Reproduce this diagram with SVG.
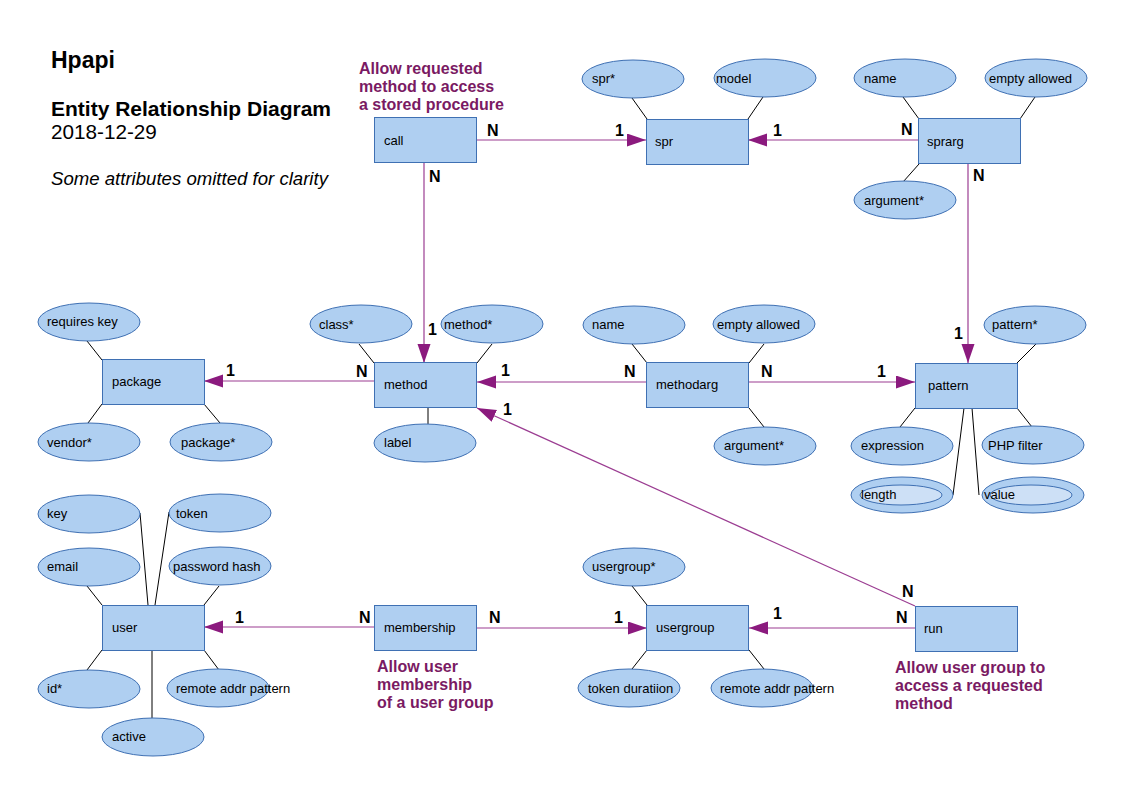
<svg xmlns="http://www.w3.org/2000/svg" width="1123" height="794" viewBox="0 0 1123 794">
<style>
text{font-family:"Liberation Sans",Arial,sans-serif;fill:#000}
.ent{fill:#afcff1;stroke:#3f70b3;stroke-width:1}
.att{fill:#afcff1;stroke:#3f70b3;stroke-width:1}
.inner{fill:#cde0f6;stroke:#3f70b3;stroke-width:1}
.lbl{font-size:13px}
.card{font-size:16px;font-weight:bold}
.note{font-size:16px;font-weight:bold;fill:#7a1a63}
.al{stroke:#000;stroke-width:1;fill:none}
.rel{stroke:#9b3d92;stroke-width:1.2;fill:none}
.arr{marker-end:url(#ah)}
</style>
<defs>
<marker id="ah" markerUnits="userSpaceOnUse" markerWidth="20" markerHeight="14" refX="19" refY="6.5" orient="auto">
<path d="M0,0 L19,6.5 L0,13 z" fill="#8b1a7e"/>
</marker>
</defs>
<rect width="1123" height="794" fill="#fff"/>

<g id="title">
<text x="51" y="68" style="font-size:23px;font-weight:bold">Hpapi</text>
<text x="51" y="116" style="font-size:21px;font-weight:bold">Entity Relationship Diagram</text>
<text x="51" y="139" style="font-size:20.7px">2018-12-29</text>
<text x="51" y="185" style="font-size:18.6px;font-style:italic">Some attributes omitted for clarity</text>
</g>

<g id="notes">
<text class="note"><tspan x="359" y="74">Allow requested</tspan><tspan x="359" y="92">method to access</tspan><tspan x="359" y="110">a stored procedure</tspan></text>
<text class="note"><tspan x="377" y="672">Allow user</tspan><tspan x="377" y="690">membership</tspan><tspan x="377" y="708">of a user group</tspan></text>
<text class="note"><tspan x="895" y="673">Allow user group to</tspan><tspan x="895" y="691">access a requested</tspan><tspan x="895" y="709">method</tspan></text>
</g>

<g id="connectors">
<line class="rel arr" x1="477" y1="140" x2="646" y2="140"/>
<line class="rel arr" x1="918" y1="140" x2="748" y2="140"/>
<line class="rel arr" x1="968" y1="164" x2="968" y2="363"/>
<line class="rel arr" x1="424" y1="163" x2="424" y2="363"/>
<line class="rel arr" x1="374" y1="381" x2="204" y2="381"/>
<line class="rel arr" x1="647" y1="382" x2="477" y2="382"/>
<line class="rel arr" x1="749" y1="382" x2="915" y2="382"/>
<line class="rel arr" x1="915" y1="606" x2="477" y2="408"/>
<line class="rel arr" x1="374" y1="627" x2="204" y2="627"/>
<line class="rel arr" x1="477" y1="628" x2="647" y2="628"/>
<line class="rel arr" x1="915" y1="628" x2="749" y2="628"/>
<g class="card">
<text class="card" x="487" y="136">N</text>
<text class="card" x="615" y="136">1</text>
<text class="card" x="773" y="136">1</text>
<text class="card" x="901" y="135">N</text>
<text class="card" x="973" y="181">N</text>
<text class="card" x="429" y="182">N</text>
<text class="card" x="954" y="339">1</text>
<text class="card" x="428" y="335">1</text>
<text class="card" x="877" y="377">1</text>
<text class="card" x="761" y="377">N</text>
<text class="card" x="624" y="377">N</text>
<text class="card" x="501" y="376">1</text>
<text class="card" x="503" y="415">1</text>
<text class="card" x="356" y="377">N</text>
<text class="card" x="226" y="376">1</text>
<text class="card" x="235" y="623">1</text>
<text class="card" x="359" y="623">N</text>
<text class="card" x="489" y="623">N</text>
<text class="card" x="614" y="623">1</text>
<text class="card" x="773" y="619">1</text>
<text class="card" x="902" y="597">N</text>
<text class="card" x="896" y="623">N</text>
</g>
</g>

<g id="call">
<rect class="ent" x="374.5" y="117.5" width="102" height="45"/>
<text class="lbl" x="384" y="145">call</text>
</g>

<g id="spr">
<line class="al" x1="632" y1="98" x2="647" y2="119"/>
<line class="al" x1="763" y1="97" x2="748" y2="119"/>
<rect class="ent" x="646.5" y="119.5" width="102" height="45"/>
<text class="lbl" x="655" y="146">spr</text>
<ellipse class="att" cx="633" cy="79" rx="51" ry="19"/>
<text class="lbl" x="592" y="83">spr*</text>
<ellipse class="att" cx="765" cy="78" rx="51" ry="19"/>
<text class="lbl" x="716" y="83">model</text>
</g>

<g id="sprarg">
<line class="al" x1="903" y1="97" x2="919" y2="119"/>
<line class="al" x1="1035" y1="97" x2="1020" y2="119"/>
<line class="al" x1="919" y1="164" x2="903" y2="182"/>
<rect class="ent" x="918.5" y="118.5" width="102" height="45"/>
<text class="lbl" x="927" y="146">sprarg</text>
<ellipse class="att" cx="905" cy="78" rx="51" ry="19"/>
<text class="lbl" x="864" y="83">name</text>
<ellipse class="att" cx="1036" cy="78" rx="51" ry="19"/>
<text class="lbl" x="989" y="83">empty allowed</text>
<ellipse class="att" cx="905" cy="200" rx="51" ry="19"/>
<text class="lbl" x="864" y="205">argument*</text>
</g>

<g id="package">
<line class="al" x1="87" y1="341" x2="102" y2="360"/>
<line class="al" x1="102" y1="404" x2="88" y2="423"/>
<line class="al" x1="204" y1="404" x2="220" y2="423"/>
<rect class="ent" x="102.5" y="359.5" width="102" height="45"/>
<text class="lbl" x="112" y="386">package</text>
<ellipse class="att" cx="89" cy="322" rx="51" ry="19"/>
<text class="lbl" x="47" y="326">requires key</text>
<ellipse class="att" cx="89" cy="442" rx="51" ry="19"/>
<text class="lbl" x="47" y="447">vendor*</text>
<ellipse class="att" cx="221" cy="442" rx="51" ry="19"/>
<text class="lbl" x="181" y="447">package*</text>
</g>

<g id="method">
<line class="al" x1="359" y1="344" x2="374" y2="363"/>
<line class="al" x1="492" y1="344" x2="477" y2="363"/>
<line class="al" x1="428" y1="408" x2="428" y2="424"/>
<rect class="ent" x="374.5" y="362.5" width="102" height="45"/>
<text class="lbl" x="384" y="389">method</text>
<ellipse class="att" cx="361" cy="324" rx="51" ry="19"/>
<text class="lbl" x="319" y="329">class*</text>
<ellipse class="att" cx="492" cy="324" rx="51" ry="19"/>
<text class="lbl" x="444" y="329">method*</text>
<ellipse class="att" cx="425" cy="443" rx="51" ry="19"/>
<text class="lbl" x="384" y="447">label</text>
</g>

<g id="methodarg">
<line class="al" x1="632" y1="344" x2="647" y2="363"/>
<line class="al" x1="764" y1="344" x2="749" y2="363"/>
<line class="al" x1="749" y1="408" x2="764" y2="427"/>
<rect class="ent" x="646.5" y="362.5" width="102" height="45"/>
<text class="lbl" x="656" y="389">methodarg</text>
<ellipse class="att" cx="634" cy="325" rx="51" ry="19"/>
<text class="lbl" x="592" y="329">name</text>
<ellipse class="att" cx="764" cy="324" rx="51" ry="19"/>
<text class="lbl" x="717" y="329">empty allowed</text>
<ellipse class="att" cx="765" cy="446" rx="51" ry="19"/>
<text class="lbl" x="724" y="450">argument*</text>
</g>

<g id="pattern">
<line class="al" x1="1036" y1="344" x2="1017" y2="363"/>
<line class="al" x1="915" y1="408" x2="900" y2="427"/>
<line class="al" x1="1017" y1="408" x2="1032" y2="427"/>
<line class="al" x1="964" y1="408" x2="953" y2="495"/>
<line class="al" x1="972" y1="408" x2="979" y2="495"/>
<rect class="ent" x="915.5" y="363.5" width="102" height="45"/>
<text class="lbl" x="928" y="390">pattern</text>
<ellipse class="att" cx="1035" cy="325" rx="51" ry="19"/>
<text class="lbl" x="992" y="329">pattern*</text>
<ellipse class="att" cx="902" cy="446" rx="51" ry="19"/>
<text class="lbl" x="861" y="450">expression</text>
<ellipse class="att" cx="1033" cy="445" rx="51" ry="19"/>
<text class="lbl" x="988" y="450">PHP filter</text>
<ellipse class="att" cx="902" cy="495" rx="51" ry="18"/>
<ellipse class="inner" cx="901" cy="495" rx="41" ry="10"/>
<text class="lbl" x="861" y="499">length</text>
<ellipse class="att" cx="1033" cy="495" rx="51" ry="18"/>
<ellipse class="inner" cx="1031" cy="495" rx="41" ry="10"/>
<text class="lbl" x="984" y="499">value</text>
</g>

<g id="user">
<line class="al" x1="140" y1="513" x2="148" y2="605"/>
<line class="al" x1="169" y1="512" x2="155" y2="605"/>
<line class="al" x1="87" y1="586" x2="102" y2="605"/>
<line class="al" x1="219" y1="586" x2="204" y2="605"/>
<line class="al" x1="102" y1="650" x2="87" y2="670"/>
<line class="al" x1="204" y1="650" x2="219" y2="670"/>
<line class="al" x1="152" y1="650" x2="152" y2="718"/>
<rect class="ent" x="102.5" y="605.5" width="102" height="45"/>
<text class="lbl" x="112" y="632">user</text>
<ellipse class="att" cx="89" cy="514" rx="51" ry="19"/>
<text class="lbl" x="47" y="518">key</text>
<ellipse class="att" cx="220" cy="513" rx="51" ry="19"/>
<text class="lbl" x="176" y="518">token</text>
<ellipse class="att" cx="89" cy="567" rx="51" ry="19"/>
<text class="lbl" x="47" y="571">email</text>
<ellipse class="att" cx="220" cy="566" rx="51" ry="19"/>
<text class="lbl" x="173" y="571">password hash</text>
<ellipse class="att" cx="89" cy="689" rx="51" ry="19"/>
<text class="lbl" x="47" y="693">id*</text>
<ellipse class="att" cx="218" cy="688" rx="51" ry="19"/>
<text class="lbl" x="176" y="693">remote addr pattern</text>
<ellipse class="att" cx="153" cy="737" rx="51" ry="19"/>
<text class="lbl" x="112" y="741">active</text>
</g>

<g id="membership">
<rect class="ent" x="374.5" y="605.5" width="102" height="45"/>
<text class="lbl" x="384" y="632">membership</text>
</g>

<g id="usergroup">
<line class="al" x1="632" y1="586" x2="647" y2="605"/>
<line class="al" x1="647" y1="650" x2="632" y2="669"/>
<line class="al" x1="749" y1="650" x2="764" y2="669"/>
<rect class="ent" x="646.5" y="605.5" width="102" height="45"/>
<text class="lbl" x="656" y="632">usergroup</text>
<ellipse class="att" cx="634" cy="567" rx="51" ry="19"/>
<text class="lbl" x="592" y="571">usergroup*</text>
<ellipse class="att" cx="629" cy="688" rx="51" ry="19"/>
<text class="lbl" x="588" y="693">token duratiion</text>
<ellipse class="att" cx="762" cy="688" rx="51" ry="19"/>
<text class="lbl" x="720" y="693">remote addr pattern</text>
</g>

<g id="run">
<rect class="ent" x="915.5" y="606.5" width="102" height="45"/>
<text class="lbl" x="924" y="633">run</text>
</g>
</svg>
